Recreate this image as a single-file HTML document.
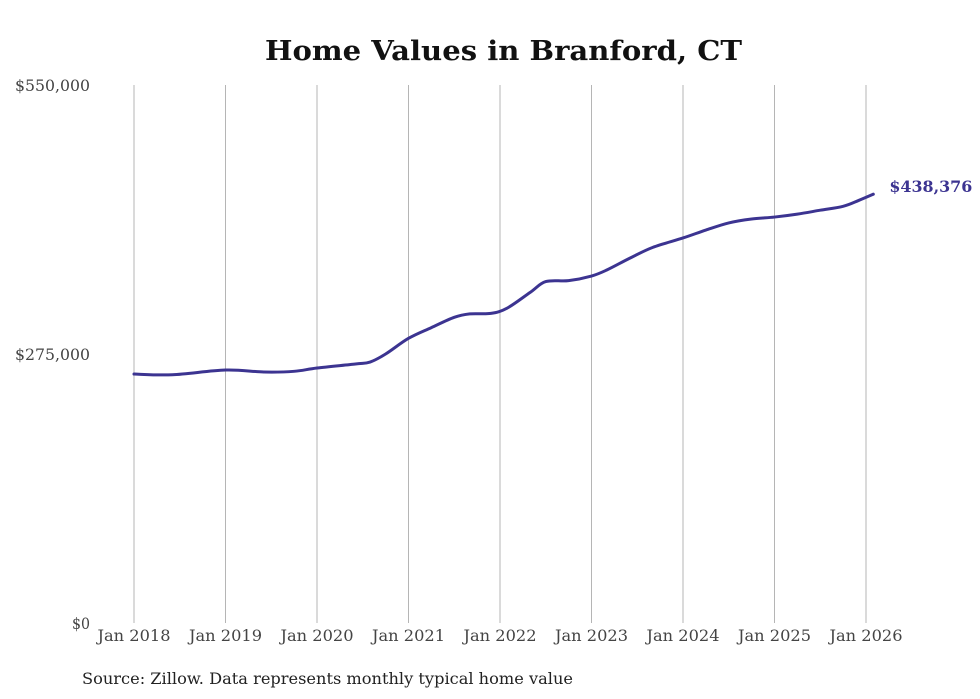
<!DOCTYPE html>
<html><head><meta charset="utf-8"><style>
body{margin:0;background:#fff;}
svg{display:block;font-family:"DejaVu Serif","Liberation Serif",serif;}
</style></head><body>
<svg id="chart" width="980" height="699">
<text x="265" y="60" font-size="27" font-weight="bold" fill="#111" textLength="477" lengthAdjust="spacingAndGlyphs">Home Values in Branford, CT</text>
<g id="grid"></g>
<g id="yaxis"></g>
<g id="xaxis"></g>
<path id="line" fill="none" stroke="#3c3491" stroke-width="3" stroke-linejoin="round" stroke-linecap="round"></path>
<text id="endlabel" font-size="16" font-weight="bold" fill="#3c3491" textLength="83" lengthAdjust="spacingAndGlyphs"></text>
<text x="82" y="684" font-size="16" fill="#222" textLength="491" lengthAdjust="spacingAndGlyphs">Source: Zillow. Data represents monthly typical home value</text>
</svg>
<script>
const dates = [2018.0,2018.42,2019.0,2019.42,2019.75,2020.0,2020.42,2020.58,2020.75,2021.0,2021.25,2021.5,2021.67,2021.9,2022.08,2022.33,2022.5,2022.75,2023.0,2023.17,2023.42,2023.67,2024.0,2024.25,2024.5,2024.75,2025.0,2025.25,2025.5,2025.75,2025.92,2026.08];
const values = [254500,253800,258600,256600,257300,260700,264800,266800,275000,291000,302000,312500,316000,316500,322000,338000,349000,350000,354700,361000,373000,384000,393600,401700,409000,413000,415000,418000,422000,426000,432000,438376];
const yTicks = [0,275000,550000];
const yTickLabels = ["$0","$275,000","$550,000"];
const xTicks = [2018,2019,2020,2021,2022,2023,2024,2025,2026];
const xTickLabels = ["Jan 2018","Jan 2019","Jan 2020","Jan 2021","Jan 2022","Jan 2023","Jan 2024","Jan 2025","Jan 2026"];
const endLabel = "$438,376";

const NS="http://www.w3.org/2000/svg";
const xS=d=>134+(d-2018)*91.5;
const yS=v=>623-v/550000*538;
const grid=document.getElementById('grid'),ya=document.getElementById('yaxis'),xa=document.getElementById('xaxis');
xTicks.forEach((t,i)=>{
  const l=document.createElementNS(NS,'line');
  
  
  l.setAttribute('x1',xS(t));l.setAttribute('x2',xS(t));l.setAttribute('y1',85);l.setAttribute('y2',623);
  l.setAttribute('stroke','#b5b5b5');l.setAttribute('stroke-width','1');
  grid.appendChild(l);
  const tx=document.createElementNS(NS,'text');
  
  
  tx.setAttribute('x',xS(t)-36.5);tx.setAttribute('y',641);
  tx.setAttribute('textLength','73');tx.setAttribute('lengthAdjust','spacingAndGlyphs');
  tx.setAttribute('font-size','16');tx.setAttribute('fill','#444');
  tx.textContent=xTickLabels[i];xa.appendChild(tx);
});
yTicks.forEach((t,i)=>{
  const tx=document.createElementNS(NS,'text');
  
  
  const w=yTickLabels[i].length>3?75:18;
  tx.setAttribute('x',90-w);tx.setAttribute('y',yS(t)+6);
  tx.setAttribute('textLength',w);tx.setAttribute('lengthAdjust','spacingAndGlyphs');
  tx.setAttribute('font-size','16');tx.setAttribute('fill','#444');
  tx.textContent=yTickLabels[i];ya.appendChild(tx);
});
const pts=dates.map((d,i)=>[xS(d),yS(values[i])]);
let p=`M${pts[0][0]},${pts[0][1]}`;
for(let i=0;i<pts.length-1;i++){
  const p0=pts[i-1]||pts[i],p1=pts[i],p2=pts[i+1],p3=pts[i+2]||p2;
  const c1=[p1[0]+(p2[0]-p0[0])/6,p1[1]+(p2[1]-p0[1])/6];
  const c2=[p2[0]-(p3[0]-p1[0])/6,p2[1]-(p3[1]-p1[1])/6];
  p+=` C${c1[0]},${c1[1]} ${c2[0]},${c2[1]} ${p2[0]},${p2[1]}`;
}
document.getElementById('line').setAttribute('d',p);
const last=pts[pts.length-1],el=document.getElementById('endlabel');
el.setAttribute('x',last[0]+16);el.setAttribute('y',last[1]-2);el.textContent=endLabel;
</script>
</body></html>
